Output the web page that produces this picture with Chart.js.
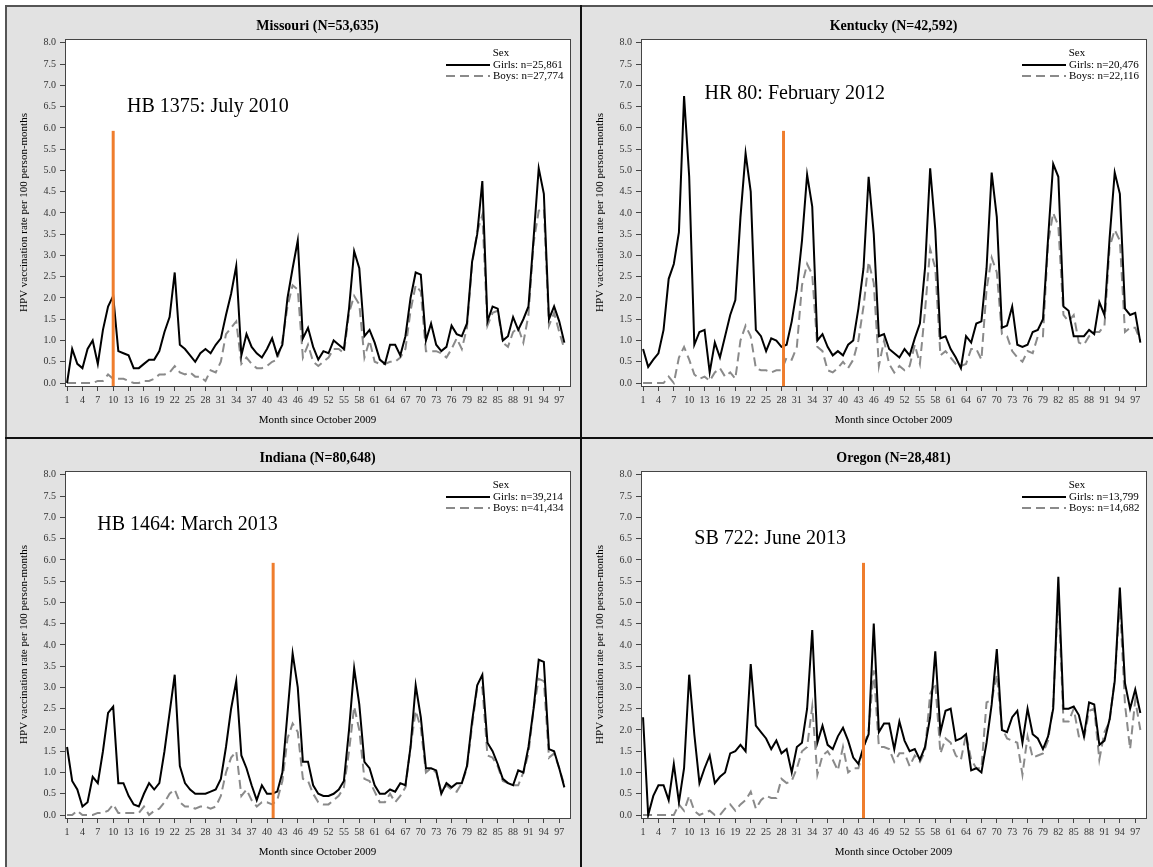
<!DOCTYPE html>
<html>
<head>
<meta charset="utf-8">
<title>HPV vaccination rate by state</title>
<script src="https://cdn.jsdelivr.net/npm/chart.js@4.4.1/dist/chart.umd.min.js"></script>
<style>
  html, body { margin: 0; padding: 0; background: #fff; }
  body { width: 1153px; height: 867px; overflow: hidden; position: relative; }
  #frame { position: absolute; left: 5px; top: 5px; width: 1148px; height: 862px; background: #e2e2e2;
           border-left: 2px solid #555; border-top: 2px solid #555; }
  .panel { position: absolute; width: 570px; height: 430px; }
  .vline { position: absolute; left: 580px; top: 5px; width: 2px; height: 862px; background: #111; }
  .hline { position: absolute; left: 5px; top: 437px; width: 1148px; height: 2px; background: #111; }
</style>
</head>
<body>
<div id="frame"></div>
<div class="panel" style="left:7px;top:7px"><canvas id="mo" width="570" height="430"></canvas></div>
<div class="panel" style="left:583px;top:7px"><canvas id="ky" width="570" height="430"></canvas></div>
<div class="panel" style="left:7px;top:439px"><canvas id="in" width="570" height="430"></canvas></div>
<div class="panel" style="left:583px;top:439px"><canvas id="or" width="570" height="430"></canvas></div>
<div class="vline"></div>
<div class="hline"></div>

<script>
/* months since October 2009 */
const months = Array.from({ length: 98 }, (_, i) => i + 1);
const monthTicks = [1, 4, 7, 10, 13, 16, 19, 22, 25, 28, 31, 34, 37, 40, 43, 46, 49, 52, 55, 58, 61, 64, 67, 70, 73, 76, 79, 82, 85, 88, 91, 94, 97];
const rateTicks = [0, 0.5, 1, 1.5, 2, 2.5, 3, 3.5, 4, 4.5, 5, 5.5, 6, 6.5, 7, 7.5, 8];

const moGirls = [0.0, 0.8, 0.45, 0.35, 0.8, 1.0, 0.45, 1.25, 1.8, 2.05,
  0.75, 0.7, 0.65, 0.35, 0.35, 0.45, 0.55, 0.55, 0.75, 1.2,
  1.55, 2.6, 0.9, 0.8, 0.65, 0.5, 0.7, 0.8, 0.7, 0.9,
  1.05, 1.6, 2.1, 2.75, 0.65, 1.15, 0.85, 0.7, 0.6, 0.8,
  1.05, 0.65, 0.9, 2.0, 2.7, 3.35, 1.05, 1.3, 0.85, 0.55,
  0.75, 0.7, 1.0, 0.9, 0.8, 1.75, 3.1, 2.7, 1.1, 1.25,
  0.95, 0.55, 0.45, 0.9, 0.9, 0.65, 1.1, 2.0, 2.6, 2.55,
  1.0, 1.4, 0.9, 0.75, 0.85, 1.35, 1.15, 1.1, 1.4, 2.85,
  3.5, 4.75, 1.45, 1.8, 1.75, 1.0, 1.1, 1.55, 1.25, 1.5,
  1.8, 3.4, 5.05, 4.45, 1.5, 1.8, 1.45, 0.95];
const moBoys = [0, 0, 0, 0, 0, 0, 0.05, 0.05, 0.2, 0.1,
  0.1, 0.1, 0.05, 0.0, 0.0, 0.05, 0.05, 0.1, 0.2, 0.2,
  0.25, 0.4, 0.25, 0.2, 0.25, 0.15, 0.15, 0.05, 0.3, 0.25,
  0.5, 1.15, 1.3, 1.45, 0.45, 0.6, 0.45, 0.35, 0.35, 0.4,
  0.5, 0.55, 1.0, 1.8, 2.3, 2.2, 0.6, 0.9, 0.5, 0.4,
  0.5, 0.6, 0.8, 0.8, 0.7, 1.65, 2.05, 1.85, 0.6, 1.0,
  0.5, 0.45, 0.45, 0.5, 0.5, 0.6, 0.8, 1.7, 2.3, 2.15,
  0.75, 0.75, 0.75, 0.7, 0.6, 0.8, 1.05, 0.8, 1.3, 2.8,
  3.55, 3.95, 1.35, 1.65, 1.7, 0.95, 0.85, 1.2, 1.3, 0.95,
  1.6, 3.3, 4.05, 4.1, 1.35, 1.65, 1.2, 0.8];

const kyGirls = [0.8, 0.38, 0.55, 0.7, 1.25, 2.45, 2.8, 3.55, 6.75, 4.85,
  0.9, 1.2, 1.25, 0.25, 0.95, 0.6, 1.1, 1.6, 1.95, 3.9,
  5.4, 4.5, 1.25, 1.1, 0.75, 1.05, 1.0, 0.85, 0.9, 1.45,
  2.2, 3.35, 4.9, 4.15, 1.0, 1.15, 0.85, 0.65, 0.75, 0.65,
  0.9, 1.0, 1.75, 2.7, 4.85, 3.5, 1.1, 1.15, 0.8, 0.7,
  0.6, 0.8, 0.65, 1.05, 1.4, 2.7, 5.05, 3.6, 1.05, 1.1,
  0.8, 0.6, 0.35, 1.1, 0.95, 1.4, 1.45, 2.7, 4.95, 3.9,
  1.3, 1.35, 1.8, 0.9, 0.85, 0.9, 1.2, 1.25, 1.5, 3.4,
  5.15, 4.85, 1.8, 1.7, 1.1, 1.1, 1.1, 1.25, 1.15, 1.9,
  1.6, 3.4, 4.95, 4.45, 1.75, 1.6, 1.65, 0.95];
const kyBoys = [0, 0, 0, 0, 0, 0.15, 0.0, 0.6, 0.85, 0.55,
  0.2, 0.1, 0.15, 0.05, 0.25, 0.35, 0.15, 0.25, 0.1, 1.0,
  1.35, 1.1, 0.35, 0.3, 0.3, 0.25, 0.3, 0.3, 0.6, 0.55,
  0.85, 2.3, 2.8, 2.55, 0.85, 0.75, 0.3, 0.25, 0.35, 0.5,
  0.35, 0.55, 1.0, 1.8, 2.85, 2.35, 0.4, 1.0, 0.45, 0.25,
  0.4, 0.3, 0.4, 0.9, 0.45, 1.7, 3.15, 2.7, 0.65, 0.75,
  0.6, 0.45, 0.4, 0.45, 0.8, 0.8, 0.55, 2.2, 2.95, 2.6,
  1.15, 1.1, 0.75, 0.6, 0.5, 0.75, 0.7, 1.1, 1.1, 3.3,
  4.0, 3.7, 1.6, 1.45, 1.6, 0.95, 0.9, 1.1, 1.2, 1.2,
  1.35, 3.2, 3.6, 3.35, 1.2, 1.3, 1.3, 1.0];

const inGirls = [1.6, 0.8, 0.6, 0.2, 0.3, 0.9, 0.75, 1.5, 2.4, 2.55,
  0.75, 0.75, 0.45, 0.25, 0.2, 0.5, 0.75, 0.6, 0.75, 1.5,
  2.4, 3.3, 1.15, 0.75, 0.6, 0.5, 0.5, 0.5, 0.55, 0.6,
  0.85, 1.6, 2.5, 3.15, 1.4, 1.1, 0.7, 0.35, 0.7, 0.5,
  0.5, 0.55, 1.0, 2.4, 3.8, 3.0, 1.25, 1.25, 0.7, 0.5,
  0.45, 0.45, 0.5, 0.6, 0.8, 2.0, 3.45, 2.6, 1.25, 1.1,
  0.7, 0.5, 0.5, 0.6, 0.55, 0.75, 0.7, 1.6, 3.05, 2.3,
  1.1, 1.1, 1.05, 0.5, 0.75, 0.65, 0.75, 0.75, 1.15, 2.2,
  3.05, 3.3, 1.7, 1.5, 1.2, 0.85, 0.75, 0.7, 1.05, 1.0,
  1.6, 2.5, 3.65, 3.6, 1.55, 1.5, 1.1, 0.65];
const inBoys = [0, 0, 0.1, 0, 0, 0, 0.05, 0.05, 0.1, 0.25,
  0.05, 0.05, 0.05, 0.05, 0.05, 0.2, 0.0, 0.1, 0.15, 0.3,
  0.5, 0.6, 0.3, 0.2, 0.2, 0.15, 0.2, 0.2, 0.15, 0.2,
  0.45, 1.0, 1.35, 1.5, 0.45, 0.6, 0.35, 0.2, 0.3, 0.3,
  0.25, 0.35, 0.8, 1.8, 2.15, 1.95, 0.85, 0.8, 0.5, 0.3,
  0.25, 0.25, 0.35, 0.45, 0.65, 1.5, 2.55, 2.0, 0.85, 0.8,
  0.55, 0.3, 0.3, 0.5, 0.3, 0.45, 0.65, 1.6, 2.45, 2.05,
  1.0, 1.1, 1.0, 0.55, 0.7, 0.6, 0.55, 0.75, 1.1, 2.1,
  3.0, 3.0, 1.4, 1.35, 1.15, 0.8, 0.75, 0.7, 0.7, 1.0,
  1.45, 2.5, 3.2, 3.15, 1.35, 1.45, 1.1, 0.7];

const orGirls = [2.3, 0.0, 0.45, 0.7, 0.7, 0.35, 1.2, 0.3, 1.1, 3.3,
  1.9, 0.75, 1.1, 1.4, 0.75, 0.9, 1.0, 1.45, 1.5, 1.65,
  1.5, 3.55, 2.1, 1.95, 1.8, 1.55, 1.75, 1.45, 1.55, 1.0,
  1.6, 1.7, 2.5, 4.35, 1.7, 2.1, 1.65, 1.55, 1.85, 2.05,
  1.75, 1.35, 1.2, 1.6, 1.9, 4.5, 1.95, 2.15, 2.15, 1.55,
  2.2, 1.75, 1.5, 1.55, 1.3, 1.6, 2.3, 3.85, 1.95, 2.45,
  2.5, 1.75, 1.8, 1.9, 1.05, 1.1, 1.0, 1.7, 2.6, 3.9,
  2.0, 1.95, 2.3, 2.45, 1.7, 2.5, 1.9, 1.8, 1.55, 1.85,
  2.5, 5.6, 2.5, 2.5, 2.55, 2.35, 1.85, 2.65, 2.6, 1.65,
  1.75, 2.25, 3.15, 5.35, 3.1, 2.5, 2.95, 2.4];
const orBoys = [0, 0, 0, 0, 0, 0, 0, 0.25, 0.1, 0.45,
  0.1, 0.0, 0.05, 0.1, 0.0, 0.0, 0.15, 0.25, 0.1, 0.25,
  0.35, 0.55, 0.15, 0.35, 0.45, 0.4, 0.4, 0.85, 0.75, 0.8,
  1.1, 1.5, 1.6, 2.55, 0.95, 1.4, 1.5, 1.3, 1.05, 1.6,
  1.0, 1.1, 1.1, 1.55, 2.0, 3.4, 1.6, 1.6, 1.55, 1.25,
  1.45, 1.45, 1.15, 1.4, 1.25, 1.5, 2.85, 3.1, 1.45, 1.8,
  1.7, 1.4, 1.3, 1.9, 1.3, 1.1, 1.1, 2.65, 2.7, 3.3,
  2.05, 1.8, 1.75, 1.7, 0.95, 1.85, 1.35, 1.4, 1.45, 1.75,
  2.6, 5.2, 2.2, 2.2, 2.5, 1.85, 1.8, 2.45, 2.5, 1.3,
  1.95, 2.2, 3.2, 5.0, 2.6, 1.55, 2.7, 2.0];

const stateTitles = ['Missouri (N=53,635)', 'Kentucky (N=42,592)', 'Indiana (N=80,648)', 'Oregon (N=28,481)'];
const girlsLabels = ['Girls: n=25,861', 'Girls: n=20,476', 'Girls: n=39,214', 'Girls: n=13,799'];
const boysLabels = ['Boys: n=27,774', 'Boys: n=22,116', 'Boys: n=41,434', 'Boys: n=14,682'];
const lawNotes = ['HB 1375: July 2010', 'HR 80: February 2012', 'HB 1464: March 2013', 'SB 722: June 2013'];
const lawMonths = [10, 28.4, 41.2, 44];
const lawTop = 5.93;

const serif = '"Liberation Serif", "Times New Roman", serif';
const yMin = -0.07, yMax = 8.09;

// white plot area with a full box around it
const plotBox = {
  id: 'plotBox',
  beforeDraw(chart) {
    const a = chart.chartArea, ctx = chart.ctx;
    ctx.save();
    ctx.fillStyle = '#fff';
    ctx.fillRect(a.left, a.top, a.right - a.left, a.bottom - a.top);
    ctx.restore();
  },
  afterDraw(chart) {
    const a = chart.chartArea, ctx = chart.ctx;
    ctx.save();
    ctx.strokeStyle = '#444';
    ctx.lineWidth = 1;
    ctx.strokeRect(Math.round(a.left) + 0.5, Math.round(a.top) + 0.5,
      Math.round(a.right - a.left), Math.round(a.bottom - a.top));
    ctx.restore();
  }
};

const lawNote = {
  id: 'lawNote',
  afterDatasetsDraw(chart, args, opts) {
    const ctx = chart.ctx;
    ctx.save();
    ctx.font = '20px ' + serif;
    ctx.fillStyle = '#000';
    ctx.textBaseline = 'middle';
    ctx.fillText(opts.text, chart.scales.x.getPixelForValue(opts.month), chart.scales.y.getPixelForValue(opts.level));
    ctx.restore();
  }
};

const sexLegend = {
  id: 'sexLegend',
  afterDraw(chart) {
    const a = chart.chartArea, ctx = chart.ctx;
    ctx.save();
    ctx.font = '11px ' + serif;
    ctx.fillStyle = '#000';
    ctx.textBaseline = 'middle';
    ctx.textAlign = 'center';
    ctx.fillText('Sex', a.right - 69, a.top + 14);
    chart.data.datasets.filter(d => d.inLegend).forEach((d, i) => {
      const y = Math.round(a.top + 26 + i * 10.5);
      ctx.beginPath();
      ctx.setLineDash(d.borderDash || []);
      ctx.strokeStyle = d.borderColor;
      ctx.lineWidth = d.borderWidth;
      ctx.moveTo(a.right - 124, y);
      ctx.lineTo(a.right - 80, y);
      ctx.stroke();
      ctx.setLineDash([]);
      ctx.textAlign = 'left';
      ctx.fillText(d.label, a.right - 77, y);
    });
    ctx.restore();
  }
};

function points(values) {
  return values.map((v, i) => ({ x: months[i], y: v }));
}

function drawPanel(canvasId, k, girls, boys, notePlace) {
  return new Chart(document.getElementById(canvasId), {
    type: 'line',
    data: {
      datasets: [
        {
          label: 'law',
          data: [{ x: lawMonths[k], y: yMin }, { x: lawMonths[k], y: lawTop }],
          borderColor: '#ef7d2d',
          borderWidth: 3,
          pointRadius: 0
        },
        {
          label: girlsLabels[k],
          inLegend: true,
          data: points(girls),
          borderColor: '#000',
          borderWidth: 2,
          pointRadius: 0,
          tension: 0
        },
        {
          label: boysLabels[k],
          inLegend: true,
          data: points(boys),
          borderColor: '#8a8a8a',
          borderWidth: 2,
          borderDash: [9, 5],
          pointRadius: 0,
          tension: 0
        }
      ]
    },
    options: {
      responsive: false,
      maintainAspectRatio: false,
      animation: false,
      devicePixelRatio: 1,
      layout: { padding: { left: 0, right: 7, top: 0, bottom: 0 } },
      scales: {
        x: {
          type: 'linear',
          min: 0.6,
          max: 99.1,
          afterBuildTicks: (scale) => { scale.ticks = monthTicks.map(v => ({ value: v })); },
          afterFit: (scale) => { scale.height = 51; },
          grid: { drawOnChartArea: false, drawTicks: true, tickLength: 5, color: '#444' },
          border: { color: '#444' },
          ticks: {
            autoSkip: false, maxRotation: 0, minRotation: 0, padding: 3,
            color: '#333', font: { family: serif, size: 10 },
            callback: (v) => String(v)
          },
          title: {
            display: true, text: 'Month since October 2009', color: '#000',
            font: { family: serif, size: 11 }, padding: { top: 0, bottom: 10.4 }
          }
        },
        y: {
          min: yMin,
          max: yMax,
          afterBuildTicks: (scale) => { scale.ticks = rateTicks.map(v => ({ value: v })); },
          afterFit: (scale) => { scale.width = 58; },
          grid: { drawOnChartArea: false, drawTicks: true, tickLength: 5, color: '#444' },
          border: { color: '#444' },
          ticks: {
            padding: 4, color: '#333', font: { family: serif, size: 10 },
            callback: (v) => Number(v).toFixed(1)
          },
          title: {
            display: true, text: 'HPV vaccination rate per 100 person-months', color: '#000',
            font: { family: serif, size: 11 }, padding: { top: 10.4, bottom: 0 }
          }
        }
      },
      plugins: {
        legend: { display: false },
        tooltip: { enabled: false },
        title: {
          display: true,
          text: stateTitles[k],
          fullSize: false,
          color: '#000',
          font: { family: serif, size: 14, weight: 'bold' },
          padding: { top: 10.6, bottom: 4.6 }
        },
        lawNote: { text: lawNotes[k], month: notePlace[0], level: notePlace[1] }
      }
    },
    plugins: [plotBox, lawNote, sexLegend]
  });
}

drawPanel('mo', 0, moGirls, moBoys, [12.7, 6.5]);
drawPanel('ky', 1, kyGirls, kyBoys, [13.0, 6.8]);
drawPanel('in', 2, inGirls, inBoys, [6.9, 6.83]);
drawPanel('or', 3, orGirls, orBoys, [11.0, 6.5]);
</script>
</body>
</html>
